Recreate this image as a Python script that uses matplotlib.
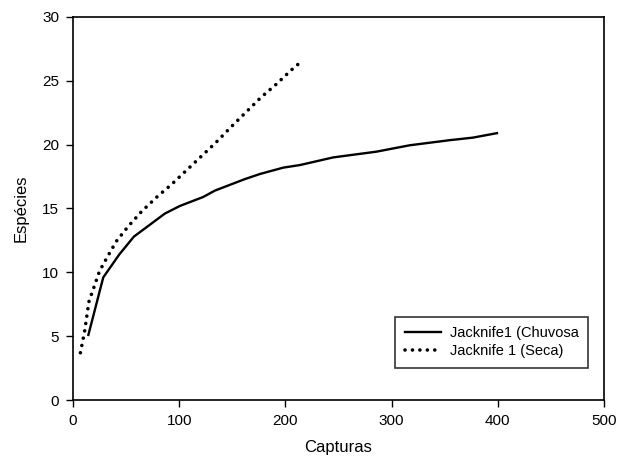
import numpy as np
import matplotlib.pyplot as plt

plt.rcParams['font.family'] = ['Liberation Sans', 'DejaVu Sans']

# Jacknife1 (Chuvosa)
x_chuvosa = [14.5, 28.5, 43.6, 57.4, 86.5, 100.7, 122.6, 133.6, 161.8, 176, 198,
             213.6, 245, 285.7, 317, 354.7, 376.6, 399.2]
y_chuvosa = [5.1, 9.6, 11.4, 12.8, 14.6, 15.2, 15.9, 16.4, 17.3, 17.7, 18.2,
             18.4, 19.0, 19.45, 19.95, 20.35, 20.55, 20.9]

# Jacknife 1 (Seca)
x_seca = [7, 11, 15, 20, 25, 33, 41, 52, 65, 79, 93, 107, 121, 135, 149, 163,
          177, 191, 205, 212]
y_seca = [3.7, 5.4, 7.7, 8.9, 10.1, 11.3, 12.45, 13.6, 14.8, 15.9, 16.9, 18.0,
          19.1, 20.2, 21.4, 22.55, 23.7, 24.7, 25.8, 26.3]

fig = plt.figure(figsize=(6.2, 4.66), dpi=100)
ax = fig.add_axes([0.1177, 0.1416, 0.8565, 0.822])

ax.plot(x_chuvosa, y_chuvosa, color='black', lw=1.7, label='Jacknife1 (Chuvosa')
ax.plot(x_seca, y_seca, color='black', lw=2.6, linestyle=(0, (0.01, 2.05)),
        dash_capstyle='round', label='Jacknife 1 (Seca)')

ax.set_xlim(0, 500)
ax.set_ylim(0, 30)
ax.set_xticks(np.arange(0, 501, 100))
ax.set_yticks(np.arange(0, 31, 5))
ax.tick_params(direction='out', length=5, width=1, labelsize=11, pad=5)
ax.set_xlabel('Capturas', fontsize=12, labelpad=9)
ax.set_ylabel('Espécies', fontsize=12, labelpad=10)
for s in ax.spines.values():
    s.set_linewidth(1.2)

leg = ax.legend(loc='lower right', bbox_to_anchor=(0.97, 0.084), fontsize=10.5,
                frameon=True, fancybox=False, edgecolor='black',
                handlelength=2.5, handletextpad=0.6, borderpad=0.65,
                labelspacing=0.3, borderaxespad=0)
leg.get_frame().set_linewidth(1.2)

fig.savefig('out.png', dpi=100)
